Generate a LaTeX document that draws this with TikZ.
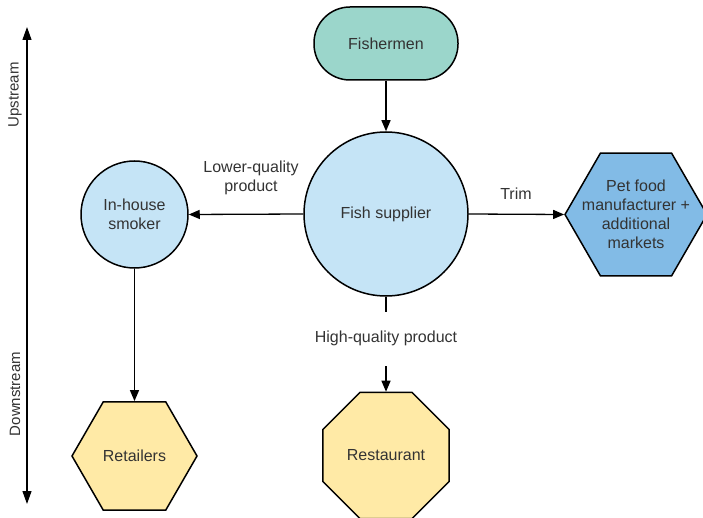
\documentclass[tikz,border=0pt]{standalone}
\usepackage{fontspec}
\setmainfont{Liberation Sans}
\usetikzlibrary{shapes.geometric,arrows.meta}
\definecolor{txt}{HTML}{333333}
\definecolor{teal}{HTML}{9BD6CB}
\definecolor{lblue}{HTML}{C5E4F6}
\definecolor{mblue}{HTML}{82BBE6}
\definecolor{lyel}{HTML}{FFEAA6}
\tikzset{
  every node/.style={text=txt, font=\fontsize{16}{19}\selectfont},
  shapeline/.style={draw=black, line width=1.5pt},
  conn/.style={draw=black, line width=1.3pt, -{Triangle[length=11pt,width=9pt]}},
  plainline/.style={draw=black, line width=1.3pt},
  hexa/.style={shapeline, regular polygon, regular polygon sides=6, inner sep=0pt},
  octa/.style={shapeline, regular polygon, regular polygon sides=8, inner sep=0pt},
  circ/.style={shapeline, circle, inner sep=0pt, fill=lblue},
  lbl/.style={align=center, inner sep=0pt},
  axislbl/.style={rotate=90, inner sep=0pt, font=\fontsize{15}{18}\selectfont}
}
\begin{document}
\begin{tikzpicture}[x=1pt,y=-1pt]
\useasboundingbox (0,0) rectangle (703,518);
% axis
\coordinate (axtop) at (27,27);
\coordinate (axbot) at (27,504);
\draw[plainline, line width=1.2pt, {Triangle[length=13pt,width=9pt]}-{Triangle[length=13pt,width=9pt]}] (axtop) -- (axbot);
\node[axislbl] (up) at (15,95) {Upstream};
\node[axislbl] (down) at (15,394) {Downstream};
% nodes
\node[shapeline, fill=teal, rectangle, rounded corners=36pt, minimum width=144pt, minimum height=73pt] (fishermen) at (386,43.5) {Fishermen};
\node[circ, minimum size=164pt] (supplier) at (386,214) {Fish supplier};
\node[circ, minimum size=107pt, align=center] (smoker) at (134.5,214.5) {In-house\\smoker};
\node[hexa, fill=mblue, minimum size=142pt] (pet) at (636,214.5) {};
\node[lbl] (pettxt) at (pet.center) {Pet food\\manufacturer +\\additional\\markets};
\node[hexa, fill=lyel, minimum size=125pt] (retail) at (134.5,456) {};
\node[lbl] (retailtxt) at (retail.center) {Retailers};
\node[octa, fill=lyel, minimum size=136.4pt] (rest) at (386,455.5) {};
\node[lbl] (resttxt) at (rest.center) {Restaurant};
% connectors
\draw[conn] (fishermen.south) -- (supplier.north);
\draw[conn] (supplier.west) -- (smoker.east);
\draw[conn] (supplier.east) -- (pet.west);
\draw[conn] (smoker.south) -- (retail.north);
\coordinate (hq1) at (386,312);
\coordinate (hq2) at (386,366);
\draw[plainline] (supplier.south) -- (hq1);
\draw[conn] (hq2) -- (rest.north);
% labels
\node[lbl] (lq) at (251,178) {Lower-quality\\product};
\node[lbl] (trim) at (516,194) {Trim};
\node[lbl] (hq) at (386,338) {High-quality product};
\end{tikzpicture}
\end{document}
